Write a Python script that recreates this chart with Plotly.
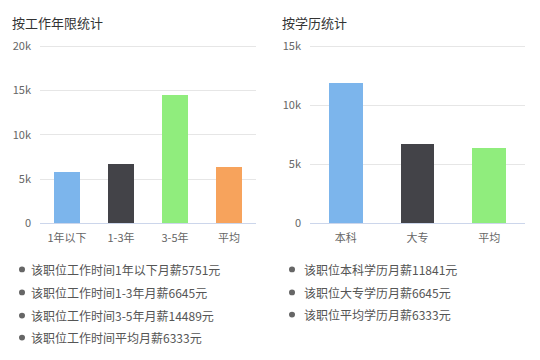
import plotly.graph_objects as go

# Data
exp_categories = ["1年以下", "1-3年", "3-5年", "平均"]
exp_values = [5751, 6645, 14489, 6333]
exp_colors = ["#7cb5ec", "#434348", "#90ed7d", "#f7a35c"]
exp_ticks = [0, 5000, 10000, 15000, 20000]
exp_ticktext = ["0", "5k", "10k", "15k", "20k"]

edu_categories = ["本科", "大专", "平均"]
edu_values = [11841, 6645, 6333]
edu_colors = ["#7cb5ec", "#434348", "#90ed7d"]
edu_ticks = [0, 5000, 10000, 15000]
edu_ticktext = ["0", "5k", "10k", "15k"]

FONT = "Noto Sans CJK SC, Microsoft YaHei, sans-serif"

fig = go.Figure()
fig.add_trace(go.Bar(x=exp_categories, y=exp_values, marker=dict(color=exp_colors, line=dict(width=0)),
                     width=0.48, xaxis="x", yaxis="y", hoverinfo="skip", showlegend=False))
fig.add_trace(go.Bar(x=edu_categories, y=edu_values, marker=dict(color=edu_colors, line=dict(width=0)),
                     width=0.47, xaxis="x2", yaxis="y2", hoverinfo="skip", showlegend=False))

# plot area spans px 225 (zero) to 39 (slightly above top gridline so it is drawn)
ydom = [1 - 225 / 360, 1 - 39 / 360]
pad = 2 / 184  # fraction of range matching 2px extra

axis_common_x = dict(showline=True, linecolor="#ccd6eb", linewidth=1, ticks="", showgrid=False,
                     tickfont=dict(family=FONT, size=11, color="#666666"), ticklabelstandoff=5,
                     fixedrange=True)
axis_common_y = dict(showline=False, ticks="", showgrid=True, gridcolor="#e6e6e6", zeroline=False,
                     tickfont=dict(family=FONT, size=11, color="#666666"), ticklabelstandoff=8,
                     fixedrange=True)

fig.update_layout(
    width=540, height=360,
    margin=dict(l=0, r=0, t=0, b=0),
    paper_bgcolor="white", plot_bgcolor="white",
    font=dict(family=FONT),
    bargap=0,
    xaxis=dict(domain=[40 / 540, 256 / 540], anchor="y", **axis_common_x),
    yaxis=dict(domain=ydom, anchor="x", range=[0, 20000 * (1 + pad)], tickvals=exp_ticks,
               ticktext=exp_ticktext, **axis_common_y),
    xaxis2=dict(domain=[310 / 540, 525 / 540], anchor="y2", **axis_common_x),
    yaxis2=dict(domain=ydom, anchor="x2", range=[0, 15000 * (1 + pad)], tickvals=edu_ticks,
                ticktext=edu_ticktext, **axis_common_y),
)

annotations = []
shapes = []
# Titles
annotations.append(dict(text="按工作年限统计", x=10 / 540, y=1 - 16 / 360, xref="paper", yref="paper",
                        xanchor="left", yanchor="middle", showarrow=False,
                        font=dict(family=FONT, size=13, color="#333333")))
annotations.append(dict(text="按学历统计", x=280 / 540, y=1 - 16 / 360, xref="paper", yref="paper",
                        xanchor="left", yanchor="middle", showarrow=False,
                        font=dict(family=FONT, size=13, color="#333333")))

# Bullet lists
left_rows = [273, 297, 321, 344]
for cat, val, ypx in zip(exp_categories, exp_values, left_rows):
    annotations.append(dict(text=f"该职位工作时间{cat}月薪{val}元", x=29 / 540, y=1 - ypx / 360,
                            xref="paper", yref="paper", xanchor="left", yanchor="middle", showarrow=False,
                            font=dict(family=FONT, size=12, color="#555555")))
    shapes.append(dict(type="circle", xref="paper", yref="paper", x0=19 / 540, x1=25 / 540,
                       y0=1 - (ypx + 3) / 360, y1=1 - (ypx - 3) / 360,
                       fillcolor="#666666", line=dict(width=0)))

right_rows = [273, 297, 320]
for cat, val, ypx in zip(edu_categories, edu_values, right_rows):
    annotations.append(dict(text=f"该职位{cat}学历月薪{val}元", x=302 / 540, y=1 - ypx / 360,
                            xref="paper", yref="paper", xanchor="left", yanchor="middle", showarrow=False,
                            font=dict(family=FONT, size=12, color="#555555")))
    shapes.append(dict(type="circle", xref="paper", yref="paper", x0=289 / 540, x1=295 / 540,
                       y0=1 - (ypx + 3) / 360, y1=1 - (ypx - 3) / 360,
                       fillcolor="#666666", line=dict(width=0)))

fig.update_layout(annotations=annotations, shapes=shapes)

fig.write_html("out.html", config={"displayModeBar": False})
